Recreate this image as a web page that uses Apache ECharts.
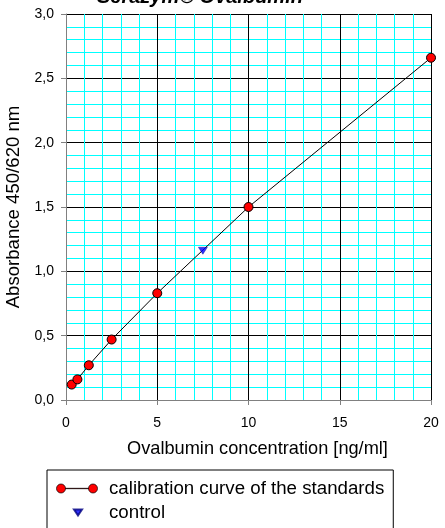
<!DOCTYPE html>
<html><head><meta charset="utf-8">
<script src="https://cdn.jsdelivr.net/npm/echarts@6/dist/echarts.min.js"></script>
<style>html,body{margin:0;padding:0;background:#fff}#c{width:445px;height:528px}</style>
</head><body><div id="c"></div>
<script>
var titleText = 'Serazym\u00AE Ovalbumin';
var xName = 'Ovalbumin concentration [ng/ml]';
var yName = 'Absorbance 450/620 nm';
var stdName = 'calibration curve of the standards';
var ctrlName = 'control';
var stdConc = [0.3125, 0.625, 1.25, 2.5, 5, 10, 20];
var stdAbs = [0.12, 0.16, 0.27, 0.47, 0.83, 1.50, 2.66];
var ctrlConc = [7.5];
var ctrlAbs = [1.16];

var F = 'Liberation Sans, Arial, sans-serif';
var chart = echarts.init(document.getElementById('c'));
chart.setOption({
  backgroundColor: '#fff',
  animation: false,
  title: { text: titleText, left: 97, top: -13, padding: 0,
    textStyle: { fontFamily: F, fontSize: 20, fontWeight: 'bold', fontStyle: 'italic', color: '#000' } },
  grid: { left: 66, right: 14, top: 14, bottom: 128, containLabel: false, outerBoundsMode: 'none' },
  xAxis: {
    type: 'value', min: 0, max: 20, interval: 5,
    name: xName, nameLocation: 'middle', nameGap: 40,
    nameTextStyle: { fontFamily: F, fontSize: 18.2, color: '#000', padding: [0, 0, 0, 18] },
    axisLine: { lineStyle: { color: '#808080', width: 1 } },
    axisTick: { show: true, length: 5, lineStyle: { color: '#808080' } },
    axisLabel: { fontFamily: F, fontSize: 14, color: '#000', margin: 16 },
    splitLine: { show: true, lineStyle: { color: '#000', width: 1 } },
    minorTick: { show: false, splitNumber: 5 },
    minorSplitLine: { show: true, lineStyle: { color: '#00ffff', width: 1 } }
  },
  yAxis: {
    type: 'value', min: 0, max: 3, interval: 0.5,
    name: yName, nameLocation: 'middle', nameGap: 38, nameRotate: 90,
    nameTextStyle: { fontFamily: F, fontSize: 18.6, color: '#000' },
    axisLine: { show: true, lineStyle: { color: '#808080', width: 1 } },
    axisTick: { show: true, length: 5, lineStyle: { color: '#808080' } },
    axisLabel: { fontFamily: F, fontSize: 14, color: '#000', margin: 12,
      formatter: function (v) { return v.toFixed(1).replace('.', ','); } },
    splitLine: { show: true, lineStyle: { color: '#000', width: 1 } },
    minorTick: { show: false, splitNumber: 5 },
    minorSplitLine: { show: true, lineStyle: { color: '#00ffff', width: 1 } }
  },
  legend: {
    orient: 'vertical', left: 47, top: 470, height: 120,
    padding: [9, 9, 10, 8.5], itemGap: 5, itemWidth: 41, itemHeight: 9,
    borderColor: '#000', borderWidth: 1, backgroundColor: '#fff',
    textStyle: { fontFamily: F, fontSize: 18.7, color: '#000', padding: [0, 0, 0, 6.5] },
    data: [
      { name: stdName, itemStyle: { borderWidth: 0.7 }, icon: 'path://M0,4.5 A4.5,4.5 0 1 1 9,4.5 A4.5,4.5 0 1 1 0,4.5 Z M9,4.3 L32,4.3 L32,4.7 L9,4.7 Z M32,4.5 A4.5,4.5 0 1 1 41,4.5 A4.5,4.5 0 1 1 32,4.5 Z' },
      { name: ctrlName, icon: 'path://M0,0 M41,9 M17.5,1.5 L25.5,1.5 L21.5,7.5 Z' }
    ]
  },
  series: [
    {
      name: stdName, type: 'line',
      data: stdConc.map(function (x, i) { return [x, stdAbs[i]]; }),
      symbol: 'circle', symbolSize: 9, showAllSymbol: true,
      lineStyle: { color: '#000', width: 1 },
      itemStyle: { color: '#ff0000', borderColor: '#000', borderWidth: 1 },
      z: 5
    },
    {
      name: ctrlName, type: 'scatter',
      data: ctrlConc.map(function (x, i) { return [x, ctrlAbs[i]]; }),
      symbol: 'triangle', symbolRotate: 180, symbolSize: [9, 7],
      itemStyle: { color: '#0000ff', borderColor: '#000080', borderWidth: 0.5 },
      z: 6
    }
  ]
});
</script></body></html>
